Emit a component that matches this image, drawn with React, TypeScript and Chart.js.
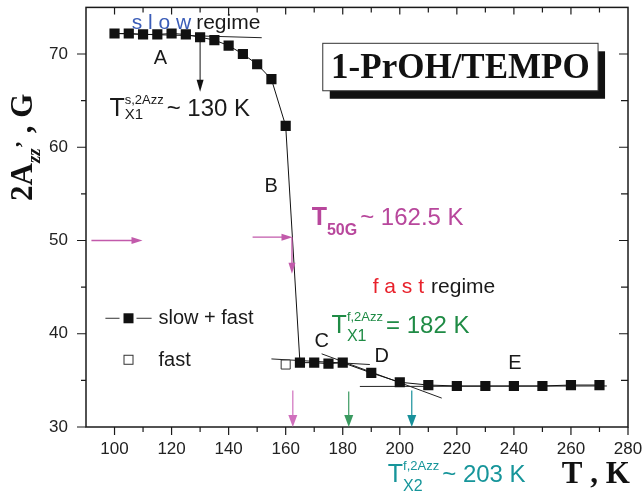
import React, { useEffect, useRef } from 'react';
import { Chart, registerables } from 'chart.js';

Chart.register(...registerables);

const SANS = '"Liberation Sans", Arial, Helvetica, sans-serif';
const SERIF = '"Liberation Serif", "Times New Roman", serif';

// slow + fast (filled squares)
const temperatureK = [100, 105, 110, 115, 120, 125, 130, 135, 140, 145, 150, 155, 160, 165, 170, 175, 180, 190, 200, 210, 220, 230, 240, 250, 260, 270];
const twoAzz = [72.2, 72.2, 72.1, 72.1, 72.2, 72.1, 71.8, 71.5, 70.9, 70.0, 68.9, 67.3, 62.3, 36.9, 36.9, 36.8, 36.9, 35.8, 34.8, 34.5, 34.4, 34.4, 34.4, 34.4, 34.5, 34.5];

// fast (open square)
const fastTemperatureK = [160];
const fastTwoAzz = [36.7];

// tangent lines for regions A, C, D, E
const fitA_T = [100, 151.6];
const fitA_V = [72.2, 71.75];
const fitC_T = [155, 189.5];
const fitC_V = [37.3, 36.7];
const fitD_T = [172.6, 214.7];
const fitD_V = [37.85, 33.1];
const fitE_T = [186, 272.6];
const fitE_V = [34.35, 34.4];

// axes
const xTickLabels = [100, 120, 140, 160, 180, 200, 220, 240, 260, 280];
const yTickLabels = [30, 40, 50, 60, 70];
const xRange = [90, 280];
const yRange = [30, 75];

function pts(xs: number[], ys: number[]) {
  return xs.map((x, i) => ({ x, y: ys[i] }));
}

function arrow(ctx: any, x1: number, y1: number, x2: number, y2: number, color: string, lw: number, hl: number, hw: number) {
  const a = Math.atan2(y2 - y1, x2 - x1);
  const c = Math.cos(a), s = Math.sin(a);
  ctx.strokeStyle = color;
  ctx.fillStyle = color;
  ctx.lineWidth = lw;
  ctx.beginPath();
  ctx.moveTo(x1, y1);
  ctx.lineTo(x2 - c * hl * 0.7, y2 - s * hl * 0.7);
  ctx.stroke();
  const bx = x2 - c * hl, by = y2 - s * hl;
  ctx.beginPath();
  ctx.moveTo(x2, y2);
  ctx.lineTo(bx - s * hw, by + c * hw);
  ctx.lineTo(bx + s * hw, by - c * hw);
  ctx.closePath();
  ctx.fill();
}

function tNote(ctx: any, x: number, y: number, color: string, bold: boolean, sup: string, sub: string, subDy: number, subFont: string, rest: string) {
  ctx.fillStyle = color;
  ctx.textAlign = 'left';
  ctx.textBaseline = 'alphabetic';
  ctx.font = `${bold ? 'bold ' : ''}25px ${SANS}`;
  ctx.fillText('T', x, y);
  const tw = ctx.measureText('T').width;
  let w = 0;
  if (sup) {
    ctx.font = `13px ${SANS}`;
    ctx.fillText(sup, x + tw, y - 12);
    w = Math.max(w, ctx.measureText(sup).width);
  }
  if (sub) {
    ctx.font = subFont;
    ctx.fillText(sub, x + tw, y + subDy);
    w = Math.max(w, ctx.measureText(sub).width);
  }
  ctx.font = `24px ${SANS}`;
  ctx.fillText(rest, x + tw + w + 3, y);
}

const decorPlugin = {
  id: 'decor',
  afterDraw(chart: any) {
    const ctx = chart.ctx;
    const ca = chart.chartArea;
    const xs = chart.scales.x, ys = chart.scales.y;
    const X = (v: number) => xs.getPixelForValue(v);
    const Y = (v: number) => ys.getPixelForValue(v);
    ctx.save();

    // frame
    ctx.strokeStyle = '#1a1a1a';
    ctx.lineWidth = 1.5;
    ctx.strokeRect(ca.left, ca.top, ca.right - ca.left, ca.bottom - ca.top);

    // tick marks
    ctx.lineWidth = 1.2;
    ctx.beginPath();
    for (let v = xRange[0] + 10; v < xRange[1] + 1; v += 10) {
      const major = v % 20 === 0;
      const p = X(v);
      ctx.moveTo(p, ca.bottom);
      ctx.lineTo(p, ca.bottom + (major ? 8 : 5));
      if (v < xRange[1]) {
        ctx.moveTo(p, ca.top);
        ctx.lineTo(p, ca.top + (major ? 7 : 5));
      }
    }
    for (let v = yRange[0]; v < yRange[1]; v += 5) {
      const major = v % 10 === 0;
      const p = Y(v);
      ctx.moveTo(ca.left, p);
      ctx.lineTo(ca.left - (major ? 9 : 5), p);
      if (v > yRange[0]) {
        ctx.moveTo(ca.right, p);
        ctx.lineTo(ca.right - (major ? 9 : 7), p);
      }
    }
    ctx.stroke();

    // y axis title (rotated)
    ctx.save();
    ctx.translate(ca.left - 54, Y(60));
    ctx.rotate(-Math.PI / 2);
    const parts = [
      { t: '2A', f: `bold 31px ${SERIF}`, dy: 0 },
      { t: 'zz', f: `italic bold 19px ${SERIF}`, dy: 8 },
      { t: '\u2019', f: `bold 22px ${SERIF}`, dy: -2 },
      { t: ' , G', f: `bold 31px ${SERIF}`, dy: 0 },
    ];
    let total = 0;
    for (const p of parts) { ctx.font = p.f; total += ctx.measureText(p.t).width; }
    let cx = -total / 2;
    ctx.fillStyle = '#111';
    ctx.textBaseline = 'alphabetic';
    ctx.textAlign = 'left';
    for (const p of parts) {
      ctx.font = p.f;
      ctx.fillText(p.t, cx, p.dy);
      cx += ctx.measureText(p.t).width;
    }
    ctx.restore();

    // x axis title
    ctx.fillStyle = '#111';
    ctx.font = `bold 31px ${SERIF}`;
    ctx.textAlign = 'left';
    ctx.textBaseline = 'alphabetic';
    ctx.fillText('T , K', X(256.8), ca.bottom + 56);

    // title box
    const bl = X(173.0), br = X(269.5), bt = Y(71.15), bb = Y(66.06);
    ctx.fillStyle = '#111';
    ctx.fillRect(bl + 7, bt + 8, br - bl, bb - bt);
    ctx.fillStyle = '#fff';
    ctx.fillRect(bl, bt, br - bl, bb - bt);
    ctx.strokeStyle = '#333';
    ctx.lineWidth = 1;
    ctx.strokeRect(bl, bt, br - bl, bb - bt);
    ctx.fillStyle = '#111';
    ctx.font = `bold 35px ${SERIF}`;
    ctx.textAlign = 'center';
    ctx.fillText('1-PrOH/TEMPO', (bl + br) / 2, bt + 35);

    // regime labels
    ctx.textAlign = 'left';
    ctx.font = `21px ${SANS}`;
    ctx.fillStyle = '#3b5db8';
    ctx.fillText('s l o w', X(106.0), Y(72.63));
    let w = ctx.measureText('s l o w').width;
    ctx.fillStyle = '#1a1a1a';
    ctx.fillText('regime', X(106.0) + w + 5, Y(72.63));

    ctx.fillStyle = '#e8212b';
    ctx.fillText('f a s t', X(190.5), Y(44.32));
    w = ctx.measureText('f a s t').width;
    ctx.fillStyle = '#1a1a1a';
    ctx.fillText('regime', X(190.5) + w + 7, Y(44.32));

    // region letters
    ctx.font = `20px ${SANS}`;
    ctx.textAlign = 'center';
    ctx.textBaseline = 'middle';
    ctx.fillStyle = '#1a1a1a';
    ctx.fillText('A', X(116.1), Y(69.55));
    ctx.fillText('B', X(154.9), Y(55.77));
    ctx.fillText('C', X(172.6), Y(39.12));
    ctx.fillText('D', X(193.7), Y(37.53));
    ctx.fillText('E', X(240.4), Y(36.79));

    // arrows
    arrow(ctx, X(130), Y(71.8), X(130), Y(65.95), '#111', 1, 12, 3.5);
    arrow(ctx, X(91.9), Y(50), X(109.8), Y(50), '#c25aab', 1.3, 11, 3.5);
    arrow(ctx, X(148.4), Y(50.36), X(162.4), Y(50.36), '#c25aab', 1.3, 11, 3.5);
    arrow(ctx, X(162.2), Y(50.36), X(162.2), Y(46.44), '#c25aab', 1.3, 11, 3.5);
    arrow(ctx, X(162.5), Y(33.92), X(162.5), Y(30), '#d070bd', 1.2, 12, 4.5);
    arrow(ctx, X(182.1), Y(33.8), X(182.1), Y(30), '#3a9a60', 1.2, 12, 4.5);
    arrow(ctx, X(204.2), Y(33.92), X(204.2), Y(30), '#17909a', 1.2, 12, 4.5);

    // T annotations
    tNote(ctx, X(98.2), Y(63.3), '#1a1a1a', false, 's,2Azz', 'X1', 3, `15px ${SANS}`, '~ 130 K');
    tNote(ctx, X(169.1), Y(51.63), '#b8479c', true, '', '50G', 10, `bold 16px ${SANS}`, '~ 162.5 K');
    tNote(ctx, X(176.1), Y(40.07), '#1f8b45', false, 'f,2Azz', 'X1', 8, `16px ${SANS}`, '= 182 K');
    tNote(ctx, X(195.8), Y(24.06), '#16959a', false, 'f,2Azz', 'X2', 9, `16px ${SANS}`, '~ 203 K');

    // legend
    const ly1 = Y(41.66);
    ctx.strokeStyle = '#333';
    ctx.lineWidth = 1;
    ctx.beginPath();
    ctx.moveTo(X(96.8), ly1); ctx.lineTo(X(101.75), ly1);
    ctx.moveTo(X(107.7), ly1); ctx.lineTo(X(113.0), ly1);
    ctx.stroke();
    ctx.fillStyle = '#111';
    const sx = X(104.9);
    ctx.fillRect(sx - 5, ly1 - 5, 10, 10);
    ctx.font = `20px ${SANS}`;
    ctx.textAlign = 'left';
    ctx.textBaseline = 'alphabetic';
    ctx.fillStyle = '#1a1a1a';
    ctx.fillText('slow + fast', X(115.4), Y(41.03));
    const ly2 = Y(37.21);
    ctx.fillStyle = '#fff';
    ctx.fillRect(sx - 4.5, ly2 - 4.5, 9, 9);
    ctx.strokeStyle = '#333';
    ctx.strokeRect(sx - 4.5, ly2 - 4.5, 9, 9);
    ctx.fillStyle = '#1a1a1a';
    ctx.fillText('fast', X(115.4), Y(36.57));

    ctx.restore();
  },
};

export default function App() {
  const ref = useRef<HTMLCanvasElement>(null);
  useEffect(() => {
    document.body.style.margin = '0';
    const canvas = ref.current;
    if (!canvas) return;
    const fitStyle = { showLine: true, pointRadius: 0, borderColor: '#222', borderWidth: 1, fill: false, order: 3 };
    const chart = new Chart(canvas, {
      type: 'scatter',
      data: {
        datasets: [
          {
            label: 'slow + fast',
            data: pts(temperatureK, twoAzz),
            showLine: true,
            borderColor: '#111',
            borderWidth: 1,
            pointStyle: 'rect',
            pointRadius: 7.2,
            pointBackgroundColor: '#111',
            pointBorderColor: '#111',
            pointBorderWidth: 0,
            order: 1,
          },
          {
            label: 'fast',
            data: pts(fastTemperatureK, fastTwoAzz),
            showLine: false,
            pointStyle: 'rect',
            pointRadius: 6.4,
            pointBackgroundColor: '#fff',
            pointBorderColor: '#333',
            pointBorderWidth: 1,
            order: 0,
          },
          { label: 'A', data: pts(fitA_T, fitA_V), ...fitStyle },
          { label: 'C', data: pts(fitC_T, fitC_V), ...fitStyle },
          { label: 'D', data: pts(fitD_T, fitD_V), ...fitStyle },
          { label: 'E', data: pts(fitE_T, fitE_V), ...fitStyle },
        ] as any,
      },
      options: {
        animation: false,
        responsive: false,
        devicePixelRatio: 1,
        layout: { padding: { top: 3, right: 14, left: 0, bottom: 0 } },
        plugins: { legend: { display: false }, tooltip: { enabled: false } },
        scales: {
          x: {
            type: 'linear',
            min: xRange[0],
            max: xRange[1],
            grid: { display: false, drawTicks: false },
            border: { display: false },
            ticks: { font: { family: SANS, size: 17 }, color: '#222', padding: 12, maxRotation: 0, autoSkip: false },
            afterBuildTicks: (s: any) => { s.ticks = xTickLabels.map((v) => ({ value: v })); },
            afterFit: (s: any) => { s.height = 72; s.paddingLeft = 0; s.paddingRight = 0; },
          },
          y: {
            type: 'linear',
            min: yRange[0],
            max: yRange[1],
            grid: { display: false, drawTicks: false },
            border: { display: false },
            ticks: { font: { family: SANS, size: 17 }, color: '#222', padding: 18, autoSkip: false },
            afterBuildTicks: (s: any) => { s.ticks = yTickLabels.map((v) => ({ value: v })); },
            afterFit: (s: any) => { s.width = 86; s.paddingTop = 0; s.paddingBottom = 0; },
          },
        },
      } as any,
      plugins: [decorPlugin],
    });
    return () => chart.destroy();
  }, []);
  return (
    <div style={{ width: 642, height: 499 }}>
      <canvas ref={ref} width={642} height={499} style={{ display: 'block' }} />
    </div>
  );
}
